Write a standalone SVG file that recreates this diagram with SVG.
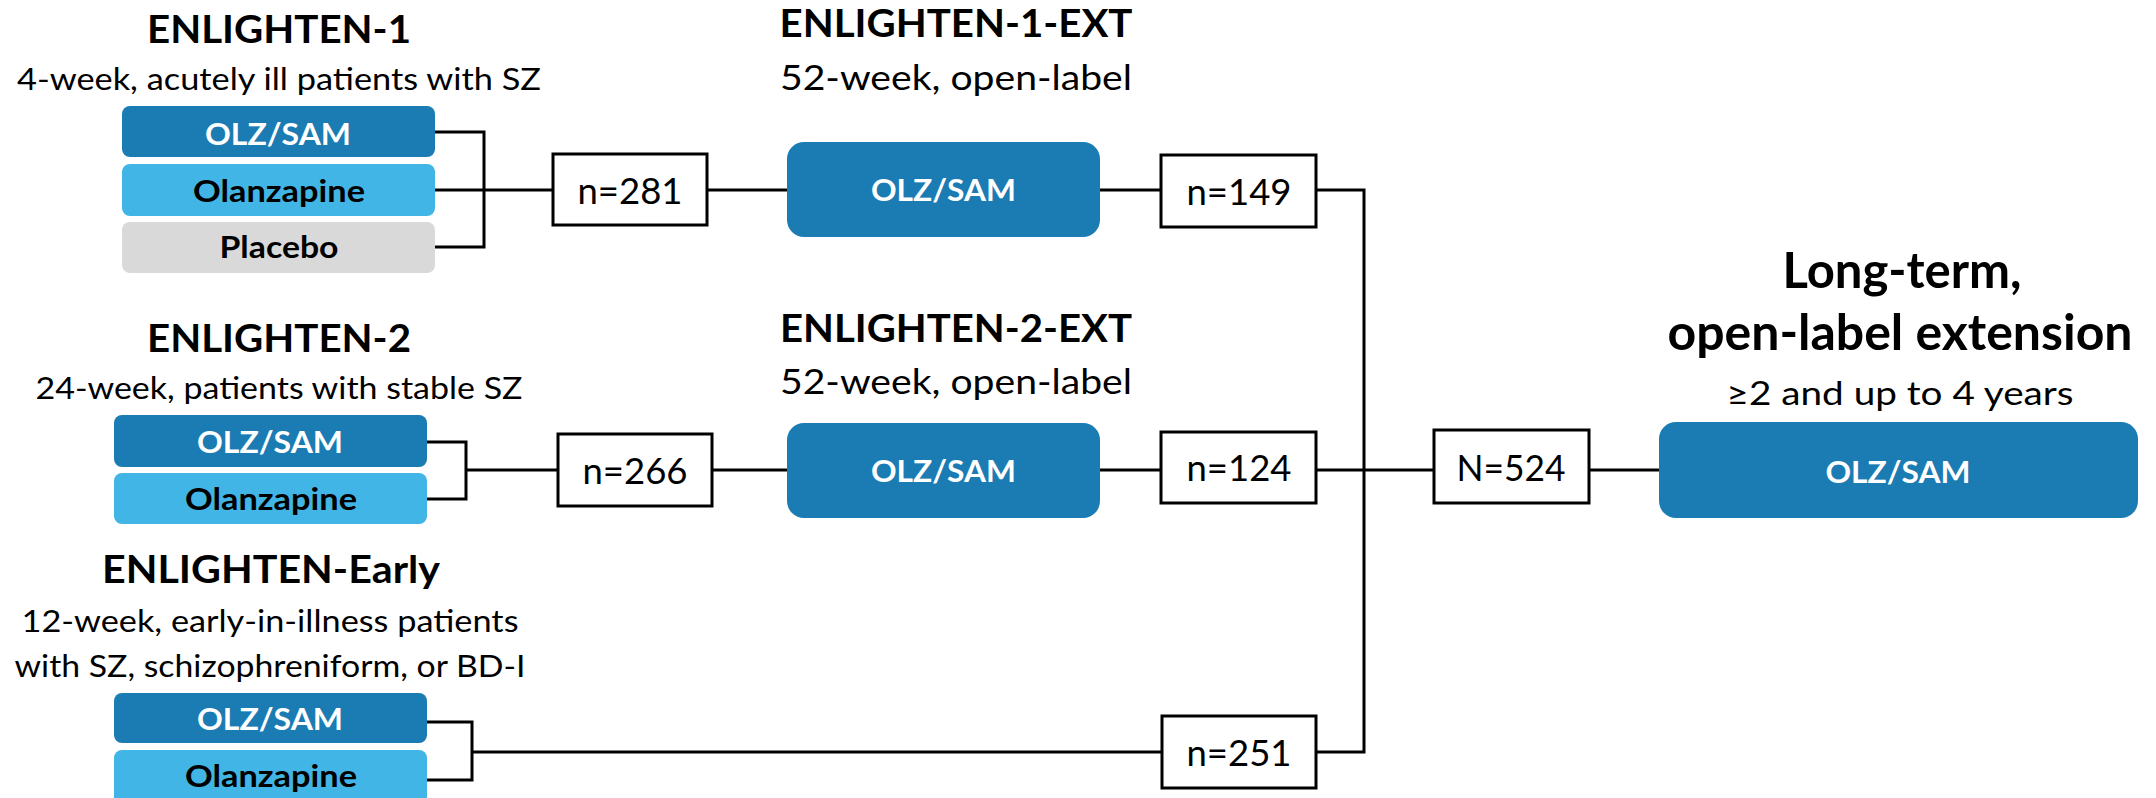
<svg xmlns="http://www.w3.org/2000/svg" width="2156" height="798" viewBox="0 0 2156 798">
<style>
text{font-family:Lato,"Liberation Sans",Arial,sans-serif;fill:#000;text-anchor:middle}
.h{font-weight:bold;font-size:38px}
.s{font-size:31px}
.s2{font-size:35px}
.bt{font-weight:bold;font-size:31px}
.w{fill:#fff}
.nt{font-size:37px}
.dark{fill:#1b7bb3}
.light{fill:#41b5e5}
.gray{fill:#d9d9d9}
.nb{fill:#fff;stroke:#000;stroke-width:3}
.c{fill:none;stroke:#000;stroke-width:3}
</style>
<rect width="2156" height="798" fill="#fff"/>
<g id="connectors">
<path class="c" d="M435 132H484V247H435M435 190H552"/>
<path class="c" d="M707 190H787M1100 190H1161"/>
<path class="c" d="M1316 190H1364V752H1316"/>
<path class="c" d="M427 442H466V499H427M466 470H558"/>
<path class="c" d="M712 470H787M1100 470H1161"/>
<path class="c" d="M1316 470H1434M1589 470H1659"/>
<path class="c" d="M427 722H472V780H427M472 752H1162"/>
</g>
<g id="enlighten1">
<text class="h" x="279" y="43" textLength="264" lengthAdjust="spacingAndGlyphs">ENLIGHTEN-1</text>
<text class="s" x="279" y="90" textLength="524" lengthAdjust="spacingAndGlyphs">4-week, acutely ill patients with SZ</text>
<rect class="dark" x="122" y="106" width="313" height="51" rx="8"/>
<text class="bt w" x="278" y="145" textLength="146" lengthAdjust="spacingAndGlyphs">OLZ/SAM</text>
<rect class="light" x="122" y="164" width="313" height="52" rx="8"/>
<text class="bt" x="279" y="202" textLength="172" lengthAdjust="spacingAndGlyphs">Olanzapine</text>
<rect class="gray" x="122" y="222" width="313" height="51" rx="8"/>
<text class="bt" x="279" y="258" textLength="119" lengthAdjust="spacingAndGlyphs">Placebo</text>
</g>
<g id="n281">
<rect class="nb" x="553" y="154" width="154" height="71"/>
<text class="nt" x="630" y="204" textLength="105" lengthAdjust="spacingAndGlyphs">n=281</text>
</g>
<g id="ext1">
<text class="h" x="956" y="37" textLength="353" lengthAdjust="spacingAndGlyphs">ENLIGHTEN-1-EXT</text>
<text class="s2" x="956" y="90" textLength="352" lengthAdjust="spacingAndGlyphs">52-week, open-label</text>
<rect class="dark" x="787" y="142" width="313" height="95" rx="17"/>
<text class="bt w" x="943.5" y="201" textLength="145" lengthAdjust="spacingAndGlyphs">OLZ/SAM</text>
</g>
<g id="n149">
<rect class="nb" x="1161" y="155" width="155" height="72"/>
<text class="nt" x="1239" y="205" textLength="105" lengthAdjust="spacingAndGlyphs">n=149</text>
</g>
<g id="enlighten2">
<text class="h" x="279" y="352" textLength="264" lengthAdjust="spacingAndGlyphs">ENLIGHTEN-2</text>
<text class="s" x="279" y="399" textLength="487" lengthAdjust="spacingAndGlyphs">24-week, patients with stable SZ</text>
<rect class="dark" x="114" y="415" width="313" height="52" rx="8"/>
<text class="bt w" x="270" y="453" textLength="146" lengthAdjust="spacingAndGlyphs">OLZ/SAM</text>
<rect class="light" x="114" y="473" width="313" height="51" rx="8"/>
<text class="bt" x="271" y="510" textLength="172" lengthAdjust="spacingAndGlyphs">Olanzapine</text>
</g>
<g id="n266">
<rect class="nb" x="558" y="434" width="154" height="72"/>
<text class="nt" x="635" y="484" textLength="105" lengthAdjust="spacingAndGlyphs">n=266</text>
</g>
<g id="ext2">
<text class="h" x="956" y="342" textLength="352" lengthAdjust="spacingAndGlyphs">ENLIGHTEN-2-EXT</text>
<text class="s2" x="956" y="394" textLength="352" lengthAdjust="spacingAndGlyphs">52-week, open-label</text>
<rect class="dark" x="787" y="423" width="313" height="95" rx="17"/>
<text class="bt w" x="943.5" y="482" textLength="145" lengthAdjust="spacingAndGlyphs">OLZ/SAM</text>
</g>
<g id="n124">
<rect class="nb" x="1161" y="432" width="155" height="71"/>
<text class="nt" x="1239" y="481" textLength="105" lengthAdjust="spacingAndGlyphs">n=124</text>
</g>
<g id="early">
<text class="h" x="271" y="583" textLength="338" lengthAdjust="spacingAndGlyphs">ENLIGHTEN-Early</text>
<text class="s" x="270" y="632" textLength="497" lengthAdjust="spacingAndGlyphs">12-week, early-in-illness patients</text>
<text class="s" x="270" y="677" textLength="511" lengthAdjust="spacingAndGlyphs">with SZ, schizophreniform, or BD-I</text>
<rect class="dark" x="114" y="693" width="313" height="50" rx="8"/>
<text class="bt w" x="270" y="730" textLength="146" lengthAdjust="spacingAndGlyphs">OLZ/SAM</text>
<rect class="light" x="114" y="750" width="313" height="58" rx="8"/>
<text class="bt" x="271" y="787" textLength="172" lengthAdjust="spacingAndGlyphs">Olanzapine</text>
</g>
<g id="n251">
<rect class="nb" x="1162" y="716" width="154" height="72"/>
<text class="nt" x="1239" y="766" textLength="105" lengthAdjust="spacingAndGlyphs">n=251</text>
</g>
<g id="n524">
<rect class="nb" x="1434" y="430" width="155" height="73"/>
<text class="nt" x="1511" y="481" textLength="109" lengthAdjust="spacingAndGlyphs">N=524</text>
</g>
<g id="longterm">
<text x="1902" y="288" font-weight="bold" font-size="49" textLength="239" lengthAdjust="spacingAndGlyphs">Long-term,</text>
<text x="1900" y="350" font-weight="bold" font-size="49" textLength="465" lengthAdjust="spacingAndGlyphs">open-label extension</text>
<text x="1900" y="405" font-size="33" textLength="347" lengthAdjust="spacingAndGlyphs">≥2 and up to 4 years</text>
<rect class="dark" x="1659" y="422" width="479" height="96" rx="17"/>
<text class="bt w" x="1898" y="483" textLength="145" lengthAdjust="spacingAndGlyphs">OLZ/SAM</text>
</g>
</svg>
